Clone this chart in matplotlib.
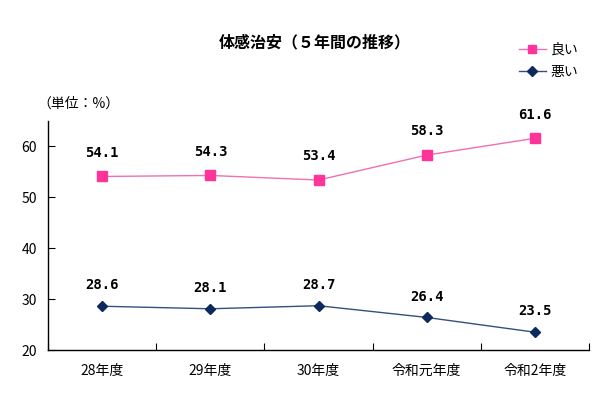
import matplotlib
matplotlib.use('Agg')
import matplotlib.pyplot as plt

plt.rcParams['font.family'] = ['Noto Sans CJK JP', 'DejaVu Sans']

# data
categories = ['28年度', '29年度', '30年度', '令和元年度', '令和2年度']
good = [54.1, 54.3, 53.4, 58.3, 61.6]
bad = [28.6, 28.1, 28.7, 26.4, 23.5]
yticks = [20, 30, 40, 50, 60]

pink = '#FF3399'
navy = '#0D2A5E'

fig = plt.figure(figsize=(6.09, 4.0), dpi=100)
ax = fig.add_axes([0.079, 0.125, 0.888, 0.5725])

x = list(range(len(categories)))
ax.plot(x, good, color='#F070B0', lw=1.0, marker='s', ms=7,
        mfc=pink, mec=pink, label='良い')
ax.plot(x, bad, color='#34507E', lw=1.0, marker='D', ms=5.5,
        mfc=navy, mec=navy, label='悪い')

for xi, v in zip(x, good):
    ax.annotate(f'{v:.1f}', (xi, v), xytext=(0, 12), textcoords='offset points',
                ha='center', va='bottom', fontsize=10, fontweight='bold',
                family='DejaVu Sans Mono')
for xi, v in zip(x, bad):
    ax.annotate(f'{v:.1f}', (xi, v), xytext=(0, 10), textcoords='offset points',
                ha='center', va='bottom', fontsize=10, fontweight='bold',
                family='DejaVu Sans Mono')

ax.set_xlim(-0.5, len(categories) - 0.5)
ax.set_ylim(20, 65)
ax.set_yticks(yticks)
ax.set_xticks([i + 0.5 for i in range(-1, len(categories))], minor=False)
ax.set_xticklabels([])
ax.set_xticks(x, minor=True)
ax.set_xticklabels(categories, minor=True)
ax.tick_params(axis='x', which='minor', length=0, pad=10, labelsize=10)
ax.tick_params(axis='x', which='major', direction='in', length=5)
ax.tick_params(axis='y', direction='in', length=5, labelsize=10, pad=8)

for s in ['top', 'right']:
    ax.spines[s].set_visible(False)
for s in ['left', 'bottom']:
    ax.spines[s].set_color('black')
    ax.spines[s].set_linewidth(1.0)

fig.text(0.517, 0.895, '体感治安（５年間の推移）', ha='center', va='center',
         fontsize=11.5, fontweight='bold')
fig.text(0.062, 0.742, '（単位：%）', ha='left', va='center', fontsize=10)

fig.legend(loc='upper right', bbox_to_anchor=(0.97, 0.925), frameon=False,
           fontsize=10, handlelength=2.0, labelspacing=0.6, handletextpad=0.3,
           markerscale=0.85)

fig.savefig('out.png', dpi=100, facecolor='white')
